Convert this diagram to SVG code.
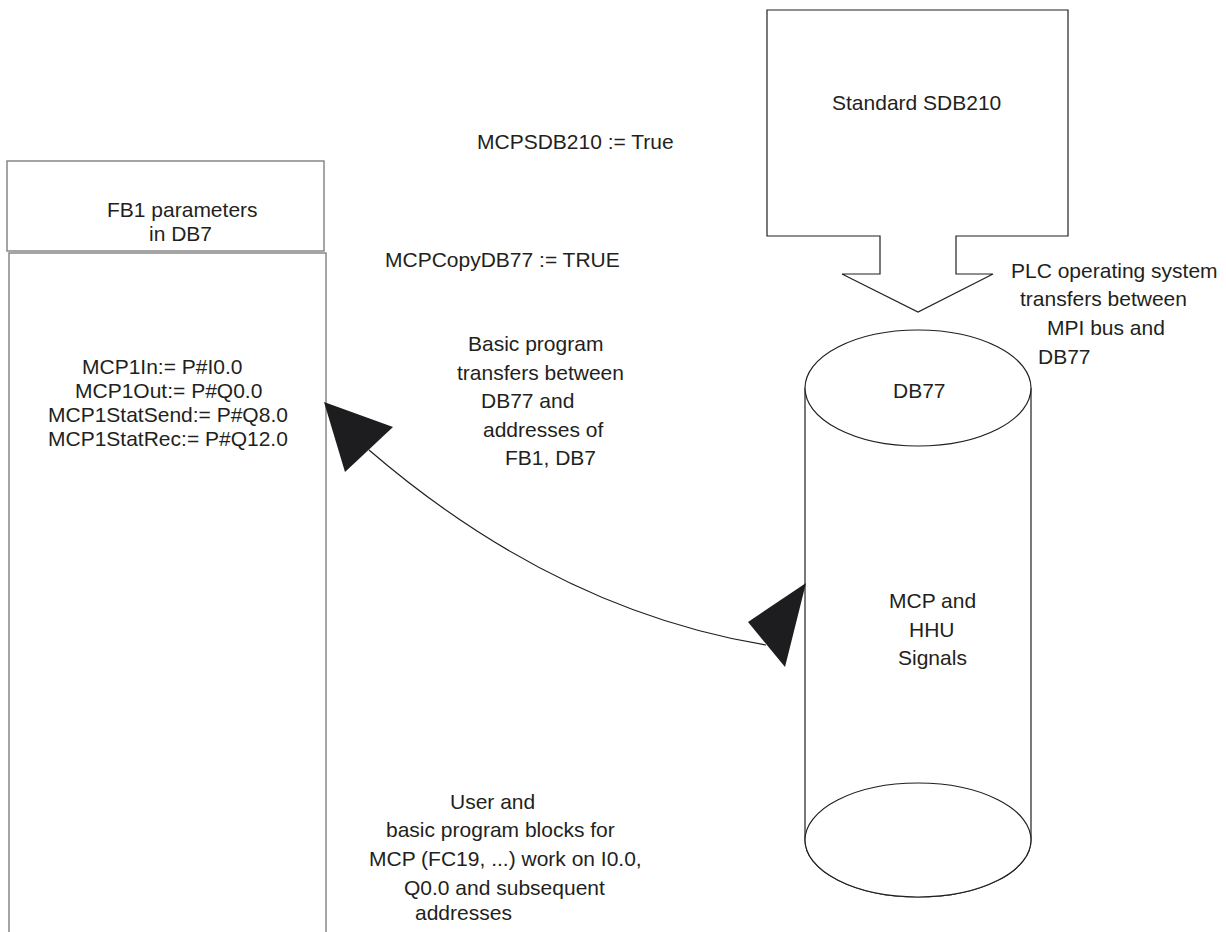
<svg xmlns="http://www.w3.org/2000/svg" width="1226" height="932" viewBox="0 0 1226 932">
  <style>
    text { font-family: "Liberation Sans", Arial, sans-serif; font-size: 21px; fill: #231f20; }
    .shape { fill: #ffffff; stroke: #231f20; stroke-width: 1.2; }
    .box { fill: #ffffff; stroke: #7f7f7f; stroke-width: 1.4; }
    .conn { fill: none; stroke: #231f20; stroke-width: 1.2; }
    .head { fill: #1d1d1f; stroke: none; }
  </style>
  <rect width="1226" height="932" fill="#ffffff"/>

  <!-- FB1 parameter block header -->
  <g id="fb1-header">
    <rect class="box" x="7" y="161" width="317" height="90"/>
    <text x="107" y="217">FB1 parameters</text>
    <text x="149" y="241">in DB7</text>
  </g>

  <!-- FB1 parameter block body -->
  <g id="fb1-body">
    <rect class="box" x="9" y="253" width="317" height="700"/>
    <text x="82" y="374">MCP1In:= P#I0.0</text>
    <text x="75" y="398">MCP1Out:= P#Q0.0</text>
    <text x="48" y="422">MCP1StatSend:= P#Q8.0</text>
    <text x="48" y="446">MCP1StatRec:= P#Q12.0</text>
  </g>

  <!-- Standard SDB210 with block arrow -->
  <g id="sdb210">
    <path class="shape" d="M767,10 H1068 V236 H956 V274 H993 L918,312 L842,274 H880 V236 H767 Z"/>
    <text x="832" y="110">Standard SDB210</text>
  </g>

  <!-- DB77 cylinder -->
  <g id="db77">
    <path class="shape" d="M805,388 V840 A113,57 0 0,0 1031,840 V388"/>
    <ellipse class="shape" cx="918" cy="840" rx="113" ry="57"/>
    <ellipse class="shape" cx="918" cy="388" rx="113" ry="58"/>
    <text x="893" y="398">DB77</text>
    <text x="889" y="608">MCP and</text>
    <text x="909" y="637">HHU</text>
    <text x="898" y="665">Signals</text>
  </g>

  <!-- free labels -->
  <g id="labels">
    <text x="477" y="149">MCPSDB210 := True</text>
    <text x="385" y="267">MCPCopyDB77 := TRUE</text>
    <text x="468" y="351">Basic program</text>
    <text x="457" y="380">transfers between</text>
    <text x="481" y="408">DB77 and</text>
    <text x="483" y="437">addresses of</text>
    <text x="505" y="465">FB1, DB7</text>
    <text x="1011" y="278">PLC operating system</text>
    <text x="1020" y="306">transfers between</text>
    <text x="1047" y="335">MPI bus and</text>
    <text x="1038" y="364">DB77</text>
    <text x="450" y="809">User and</text>
    <text x="386" y="837">basic program blocks for</text>
    <text x="369" y="866">MCP (FC19, ...) work on I0.0,</text>
    <text x="404" y="895">Q0.0 and subsequent</text>
    <text x="415" y="920">addresses</text>
  </g>

  <!-- bidirectional transfer connector -->
  <g id="connectors">
    <path class="conn" d="M369,450 Q555,610 766,645"/>
    <polygon class="head" points="324,402 393,427 345,472"/>
    <polygon class="head" points="806,583 785,667 748,622"/>
  </g>
</svg>
